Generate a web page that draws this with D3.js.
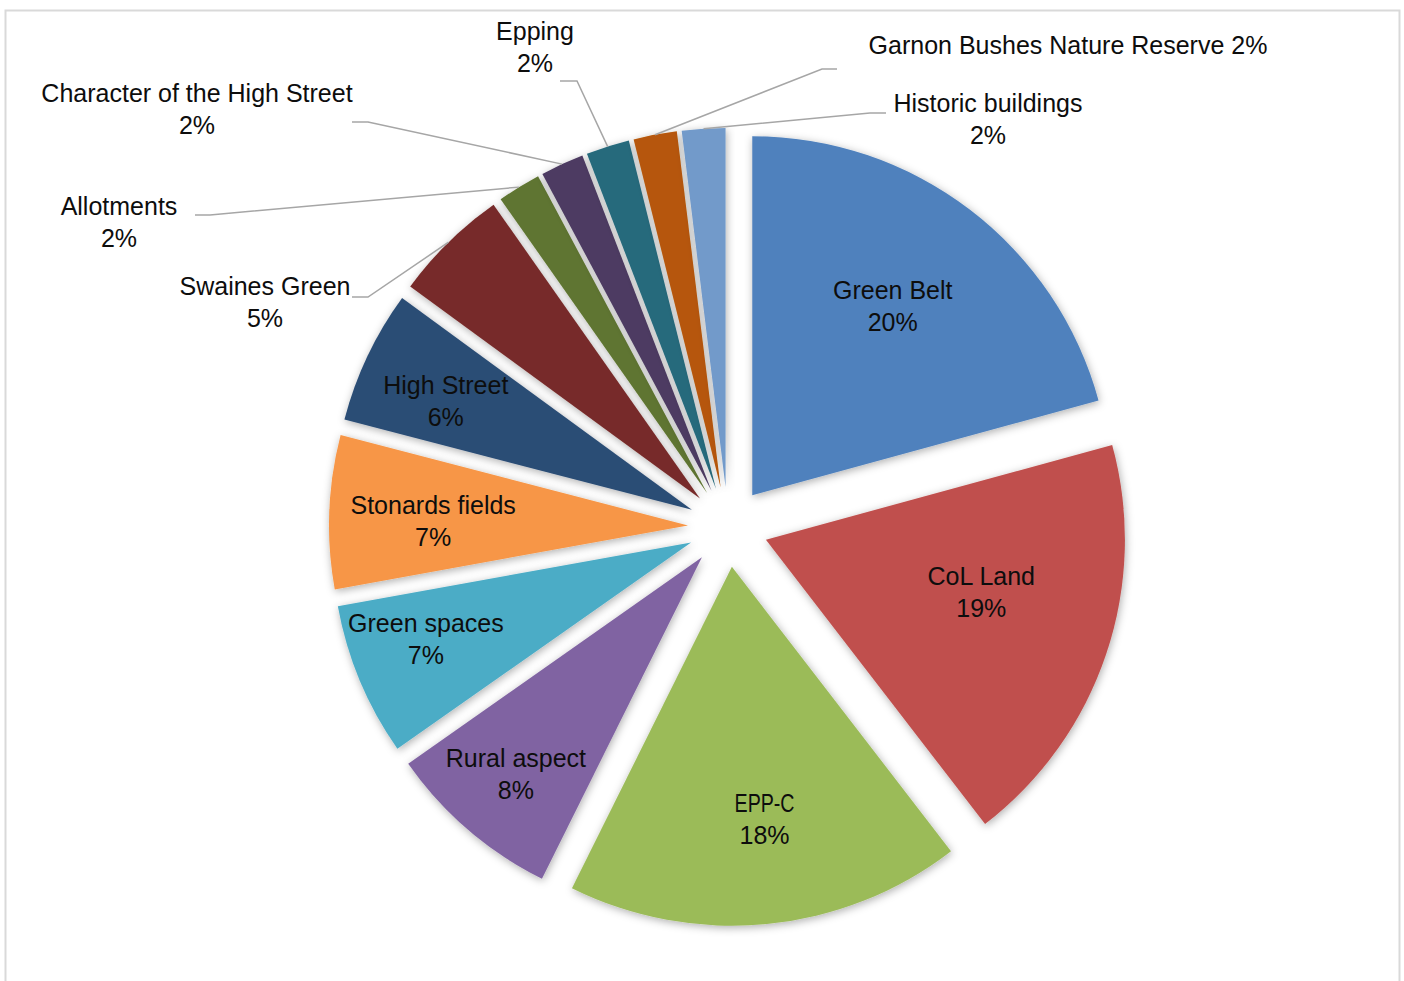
<!DOCTYPE html>
<html>
<head>
<meta charset="utf-8">
<script src="https://cdn.jsdelivr.net/npm/d3@7"></script>
<style>
  html, body { margin: 0; padding: 0; background: #fff; }
  svg { display: block; }
  text { font-family: "Liberation Sans", Arial, sans-serif; font-size: 25px; fill: #0d0d0d; }
</style>
</head>
<body>
<script>
// ---- data ----
const categories = ["Green Belt", "CoL Land", "EPP-C", "Rural aspect", "Green spaces",
  "Stonards fields", "High Street", "Swaines Green", "Allotments",
  "Character of the High Street", "Epping", "Garnon Bushes Nature Reserve", "Historic buildings"];
const values = [20.75, 18.8, 17.8, 7.9, 6.9, 6.9, 6.0, 5.2, 1.95, 1.95, 1.95, 1.95, 1.95];
const colors = ["#4F81BD", "#C0504D", "#9BBB59", "#8064A2", "#4BACC6", "#F79646",
  "#2C4D75", "#772C2A", "#5F7530", "#4D3B62", "#276A7C", "#B65708", "#729ACA"];

// ---- layout (styles / positions kept apart from data) ----
const W = 1404, H = 981;
const cx = 728, cy = 527, R = 359, explode = 40;
const lineGap = 32;
// inside labels: radius fraction and angle nudge (deg) relative to slice bisector
const insideLabels = {
  0: {f: 0.657, da: -0.8},
  1: {f: 0.617, da: -5},
  2: {f: 0.708, da: -1.8},
  3: {f: 0.795, da: 0},
  4: {f: 0.786, da: 2.7},
  5: {f: 0.71, da: -1.1},
  6: {f: 0.749, da: -1.6}
};
// callout labels: text centre, leader end, knee direction
const callouts = {
  7:  {x: 265, y: 302, ex: 352, ey: 297, knee: 16, oneLine: false},
  8:  {x: 119, y: 222, ex: 195, ey: 215, knee: 15, oneLine: false},
  9:  {x: 197, y: 109, ex: 352, ey: 122, knee: 16, oneLine: false},
  10: {x: 535, y: 47,  ex: 560, ey: 81,  knee: 17, oneLine: false},
  11: {x: 1068, y: 45, ex: 837, ey: 69,  knee: -15, oneLine: true},
  12: {x: 988, y: 119, ex: 886, ey: 113, knee: -16, oneLine: false}
};
const condensedFirstLine = {"EPP-C": 60};

// Excel-style percentage labels (largest remainder so they total 100)
function roundedPercents(vals) {
  const total = d3.sum(vals);
  const raw = vals.map(v => v / total * 100);
  const fl = raw.map(Math.floor);
  let rem = 100 - d3.sum(fl);
  const order = raw.map((v, i) => [v - fl[i], i]).sort((a, b) => b[0] - a[0]);
  for (let k = 0; k < rem; k++) fl[order[k][1]] += 1;
  return fl;
}
const pcts = roundedPercents(values);

const svg = d3.select("body").append("svg").attr("width", W).attr("height", H);
const defs = svg.append("defs");
const f = defs.append("filter").attr("id", "shadow")
  .attr("x", "-20%").attr("y", "-20%").attr("width", "140%").attr("height", "140%");
f.append("feDropShadow").attr("dx", 1).attr("dy", 2).attr("stdDeviation", 4)
  .attr("flood-color", "#000").attr("flood-opacity", 0.32);

svg.append("rect").attr("x", 5.5).attr("y", 10.5).attr("width", 1394).attr("height", 1000)
  .attr("fill", "#fff").attr("stroke", "#D9D9D9").attr("stroke-width", 2);

const pie = d3.pie().sort(null).value(d => d).startAngle(0).endAngle(2 * Math.PI);
const arcs = pie(values);
const arc = d3.arc().innerRadius(0).outerRadius(R);

function offsetOf(d) {
  const a = (d.startAngle + d.endAngle) / 2;
  return [cx + explode * Math.sin(a), cy - explode * Math.cos(a)];
}

const g = svg.append("g");
g.selectAll("path.slice").data(arcs).join("path")
  .attr("class", "slice")
  .attr("transform", d => { const o = offsetOf(d); return `translate(${o[0]},${o[1]})`; })
  .attr("d", arc)
  .attr("fill", (d, i) => colors[i])
  .attr("filter", "url(#shadow)");

const textOffset = 9; // baseline offset from visual centre

function drawLabel(x, y, i, oneLine) {
  const name = categories[i];
  const pct = pcts[i] + "%";
  if (oneLine) {
    svg.append("text").attr("x", x).attr("y", y + textOffset)
      .attr("text-anchor", "middle").text(name + " " + pct);
    return;
  }
  const t1 = svg.append("text").attr("x", x).attr("y", y - lineGap / 2 + textOffset)
    .attr("text-anchor", "middle").text(name);
  if (condensedFirstLine[name]) {
    t1.attr("textLength", condensedFirstLine[name]).attr("lengthAdjust", "spacingAndGlyphs");
  }
  svg.append("text").attr("x", x).attr("y", y + lineGap / 2 + textOffset)
    .attr("text-anchor", "middle").text(pct);
}

arcs.forEach((d, i) => {
  const o = offsetOf(d);
  const mid = (d.startAngle + d.endAngle) / 2;
  if (insideLabels[i]) {
    const L = insideLabels[i];
    const a = mid + L.da * Math.PI / 180;
    const rr = R * L.f;
    drawLabel(o[0] + rr * Math.sin(a), o[1] - rr * Math.cos(a), i, false);
  } else if (callouts[i]) {
    const C = callouts[i];
    const px = o[0] + R * Math.sin(mid), py = o[1] - R * Math.cos(mid);
    const pts = [[C.ex, C.ey], [C.ex + C.knee, C.ey], [px, py]];
    svg.append("path").attr("d", d3.line()(pts))
      .attr("fill", "none").attr("stroke", "#A6A6A6").attr("stroke-width", 1.5);
    drawLabel(C.x, C.y, i, C.oneLine);
  }
});
</script>
</body>
</html>
